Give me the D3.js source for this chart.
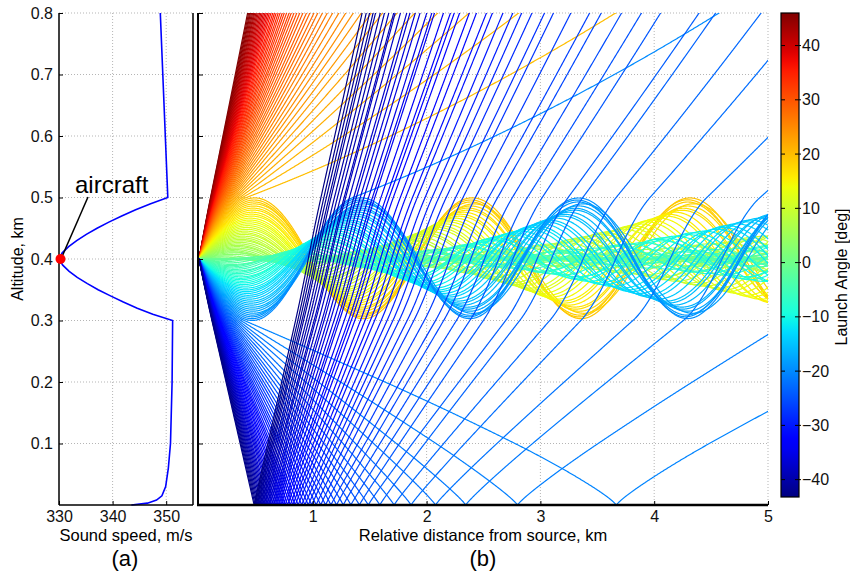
<!DOCTYPE html>
<html>
<head>
<meta charset="utf-8">
<script src="https://cdn.jsdelivr.net/npm/d3@7"></script>
<style>
  body { margin: 0; background: #fff; }
  svg { font-family: "Liberation Sans", Arial, sans-serif; }
</style>
</head>
<body>
<svg id="chart" width="850" height="571"></svg>
<script>
// sound speed profile
var profileAlt = [0, 0.003, 0.008, 0.015, 0.03, 0.06, 0.1, 0.2, 0.3,
    0.31, 0.32, 0.33, 0.34, 0.35, 0.36, 0.37, 0.38, 0.39, 0.4,
    0.41, 0.42, 0.43, 0.44, 0.45, 0.46, 0.47, 0.48, 0.49, 0.5, 0.8];
var profileSpeed = [343.5, 346.5, 348.2, 349.2, 349.9, 350.4, 350.8, 351.1, 351.2,
    347.5, 344.6, 342.0, 339.6, 337.3, 335.3, 333.4, 331.9, 330.7, 330.0,
    330.6, 331.8, 333.3, 335.1, 337.1, 339.3, 341.7, 344.3, 347.1, 350.3, 348.9];

// source and launch fan (deg)
var sourceAlt = 0.4;
var angleMin = -43, angleMax = 46, angleStep = 0.5;
var launchAngles = d3.range(angleMin, angleMax + 0.001, angleStep);
var cbarMin = -43.2, cbarMax = 46;

// ticks
var altTicks = [0.1, 0.2, 0.3, 0.4, 0.5, 0.6, 0.7, 0.8];
var speedTicks = [330, 340, 350];
var distTicks = [1, 2, 3, 4, 5];
var angleTicks = [-40, -30, -20, -10, 0, 10, 20, 30, 40];

var svg = d3.select("#chart");

var xA = d3.scaleLinear().domain([330, 355]).range([59, 193]);
var yZ = d3.scaleLinear().domain([0, 0.8]).range([505, 13]);
var xB = d3.scaleLinear().domain([0, 5]).range([199, 768]);
var yC = d3.scaleLinear().domain([cbarMin, cbarMax]).range([497, 13]);

// jet colormap
var jr = d3.scaleLinear().domain([0, 0.35, 0.66, 0.89, 1]).range([0, 0, 1, 1, 0.5]).clamp(true);
var jg = d3.scaleLinear().domain([0, 0.125, 0.375, 0.64, 0.91, 1]).range([0, 0, 1, 1, 0, 0]).clamp(true);
var jb = d3.scaleLinear().domain([0, 0.11, 0.34, 0.65, 1]).range([0.5, 1, 1, 0, 0]).clamp(true);
function jet(t) {
    return d3.rgb(jr(t) * 255, jg(t) * 255, jb(t) * 255).formatHex();
}
var cNorm = d3.scaleLinear().domain(yC.domain()).range([0, 1]).clamp(true);
function angleColor(a) { return jet(cNorm(a)); }

// c(z) piecewise linear through the profile
var speedAt = d3.scaleLinear().domain(profileAlt).range(profileSpeed).clamp(true);
var bis = d3.bisector(function(d) { return d; }).right;
function gradAt(z) {
    var i = bis(profileAlt, z);
    if (i < 1) i = 1;
    if (i > profileAlt.length - 1) i = profileAlt.length - 1;
    return (profileSpeed[i] - profileSpeed[i - 1]) / (profileAlt[i] - profileAlt[i - 1]);
}
function dTheta(z, th) {
    return -Math.cos(th) / speedAt(z) * gradAt(z);
}

// trace one ray (midpoint steps along arc length, km)
function trace(deg) {
    var ds = 0.002, x = 0, z = sourceAlt, th = deg * Math.PI / 180;
    var pts = [[x, z]];
    for (var i = 0; i < 8000; i++) {
        var zm = z + 0.5 * ds * Math.sin(th);
        var thm = th + 0.5 * ds * dTheta(z, th);
        x += ds * Math.cos(thm);
        z += ds * Math.sin(thm);
        th += ds * dTheta(Math.max(zm, 0), thm);
        if (z < 0) { z = -z; th = -th; pts.push([x, 0]); }
        if (i % 2 === 0) pts.push([x, z]);
        if (x > 5.02 || z > 0.82) { pts.push([x, z]); break; }
    }
    return pts;
}

var grid = "#b5b5b5";

// ---------- panel (a) ----------
var ga = svg.append("g");
ga.selectAll("line.hg").data(altTicks).enter().append("line")
    .attr("x1", 59).attr("x2", 193)
    .attr("y1", function(d) { return yZ(d); }).attr("y2", function(d) { return yZ(d); })
    .attr("stroke", grid).attr("stroke-dasharray", "1,2");
ga.selectAll("line.vg").data(speedTicks.slice(1)).enter().append("line")
    .attr("x1", function(d) { return xA(d); }).attr("x2", function(d) { return xA(d); })
    .attr("y1", 13).attr("y2", 505)
    .attr("stroke", grid).attr("stroke-dasharray", "1,2");

var profLine = d3.line()
    .x(function(d, i) { return xA(profileSpeed[i]); })
    .y(function(d) { return yZ(d); });
ga.append("path").attr("d", profLine(profileAlt))
    .attr("fill", "none").attr("stroke", "#0000ff").attr("stroke-width", 1.6);

var ayA = ga.append("g").attr("transform", "translate(59,0)")
    .call(d3.axisLeft(yZ).tickValues(altTicks).tickSize(-4).tickPadding(6).tickFormat(d3.format(".1f")));
var axA = ga.append("g").attr("transform", "translate(0,505)")
    .call(d3.axisBottom(xA).tickValues(speedTicks).tickSize(-4).tickPadding(6));
[ayA, axA].forEach(function(g) {
    g.select(".domain").remove();
    g.selectAll("text").attr("font-size", 16).attr("fill", "#111").style("font-family", "inherit");
    g.selectAll(".tick line").attr("stroke", "#000");
});
ga.append("line").attr("x1", 59).attr("x2", 59).attr("y1", 13).attr("y2", 505).attr("stroke", "#000").attr("stroke-width", 1.5);
ga.append("line").attr("x1", 193).attr("x2", 193).attr("y1", 13).attr("y2", 505).attr("stroke", "#000").attr("stroke-width", 1.5);
ga.append("line").attr("x1", 59).attr("x2", 193).attr("y1", 505).attr("y2", 505).attr("stroke", "#000").attr("stroke-width", 1.5);

// aircraft marker
ga.append("line").attr("x1", 88).attr("y1", 197)
    .attr("x2", xA(330) + 2).attr("y2", yZ(sourceAlt))
    .attr("stroke", "#000").attr("stroke-width", 1.5);
ga.append("circle").attr("cx", xA(330) + 1.5).attr("cy", yZ(sourceAlt)).attr("r", 5).attr("fill", "#ff0000");
ga.append("text").attr("x", 75).attr("y", 193).attr("font-size", 24).text("aircraft");

ga.append("text").attr("transform", "translate(23,259) rotate(-90)")
    .attr("text-anchor", "middle").attr("font-size", 16).text("Altitude, km");
ga.append("text").attr("x", 126).attr("y", 541).attr("text-anchor", "middle")
    .attr("font-size", 16.5).text("Sound speed, m/s");
ga.append("text").attr("x", 125).attr("y", 566).attr("text-anchor", "middle")
    .attr("font-size", 22).text("(a)");

// ---------- panel (b) ----------
var gb = svg.append("g");
gb.selectAll("line.hg").data(altTicks).enter().append("line")
    .attr("x1", 199).attr("x2", 768)
    .attr("y1", function(d) { return yZ(d); }).attr("y2", function(d) { return yZ(d); })
    .attr("stroke", grid).attr("stroke-dasharray", "1,2");
gb.selectAll("line.vg").data(distTicks).enter().append("line")
    .attr("x1", function(d) { return xB(d); }).attr("x2", function(d) { return xB(d); })
    .attr("y1", 13).attr("y2", 505)
    .attr("stroke", grid).attr("stroke-dasharray", "1,2");

svg.append("defs").append("clipPath").attr("id", "clipB")
    .append("rect").attr("x", 199).attr("y", 13).attr("width", 569).attr("height", 492);

var rayLine = d3.line()
    .x(function(d) { return xB(d[0]); })
    .y(function(d) { return yZ(d[1]); });
var rays = launchAngles.slice().reverse().map(function(a) { return { angle: a, pts: trace(a) }; });
gb.append("g").attr("clip-path", "url(#clipB)")
    .selectAll("path").data(rays).enter().append("path")
    .attr("d", function(d) { return rayLine(d.pts); })
    .attr("fill", "none")
    .attr("stroke", function(d) { return angleColor(d.angle); })
    .attr("stroke-width", 1.2);

var axB = gb.append("g").attr("transform", "translate(0,505)")
    .call(d3.axisBottom(xB).tickValues(distTicks).tickSize(-4).tickPadding(6).tickFormat(d3.format("d")));
axB.select(".domain").remove();
axB.selectAll("text").attr("font-size", 16).attr("fill", "#111").style("font-family", "inherit");
axB.selectAll(".tick line").attr("stroke", "#000");
var ayB = gb.append("g").attr("transform", "translate(199,0)")
    .call(d3.axisLeft(yZ).tickValues(altTicks).tickSize(-4).tickFormat(""));
ayB.select(".domain").remove();
ayB.selectAll(".tick line").attr("stroke", "#000");

gb.append("line").attr("x1", 198).attr("x2", 198).attr("y1", 13).attr("y2", 506).attr("stroke", "#000").attr("stroke-width", 2);
gb.append("line").attr("x1", 197).attr("x2", 768).attr("y1", 505).attr("y2", 505).attr("stroke", "#000").attr("stroke-width", 2.5);

gb.append("text").attr("x", 483).attr("y", 541).attr("text-anchor", "middle")
    .attr("font-size", 16.5).text("Relative distance from source, km");
gb.append("text").attr("x", 483).attr("y", 566).attr("text-anchor", "middle")
    .attr("font-size", 22).text("(b)");

// ---------- colorbar ----------
var grad = svg.select("defs").append("linearGradient").attr("id", "jetGrad")
    .attr("x1", 0).attr("x2", 0).attr("y1", 1).attr("y2", 0);
d3.range(0, 1.0001, 0.02).forEach(function(t) {
    grad.append("stop").attr("offset", t).attr("stop-color", jet(t));
});
var gc = svg.append("g");
gc.append("rect").attr("x", 781).attr("y", 13).attr("width", 18).attr("height", 484)
    .attr("fill", "url(#jetGrad)").attr("stroke", "#000").attr("stroke-width", 1.2);
gc.selectAll("line.tl").data(angleTicks).enter().append("line")
    .attr("x1", 781).attr("x2", 785)
    .attr("y1", function(d) { return yC(d); }).attr("y2", function(d) { return yC(d); })
    .attr("stroke", "#000");
gc.selectAll("line.tr").data(angleTicks).enter().append("line")
    .attr("x1", 795).attr("x2", 801)
    .attr("y1", function(d) { return yC(d); }).attr("y2", function(d) { return yC(d); })
    .attr("stroke", "#000");
gc.selectAll("text.tk").data(angleTicks).enter().append("text")
    .attr("x", 802).attr("y", function(d) { return yC(d); })
    .attr("dy", "0.35em").attr("font-size", 16).attr("fill", "#111")
    .text(d3.format("d"));
gc.append("text").attr("transform", "translate(847,277) rotate(-90)")
    .attr("text-anchor", "middle").attr("font-size", 16).text("Launch Angle [deg]");
</script>
</body>
</html>
